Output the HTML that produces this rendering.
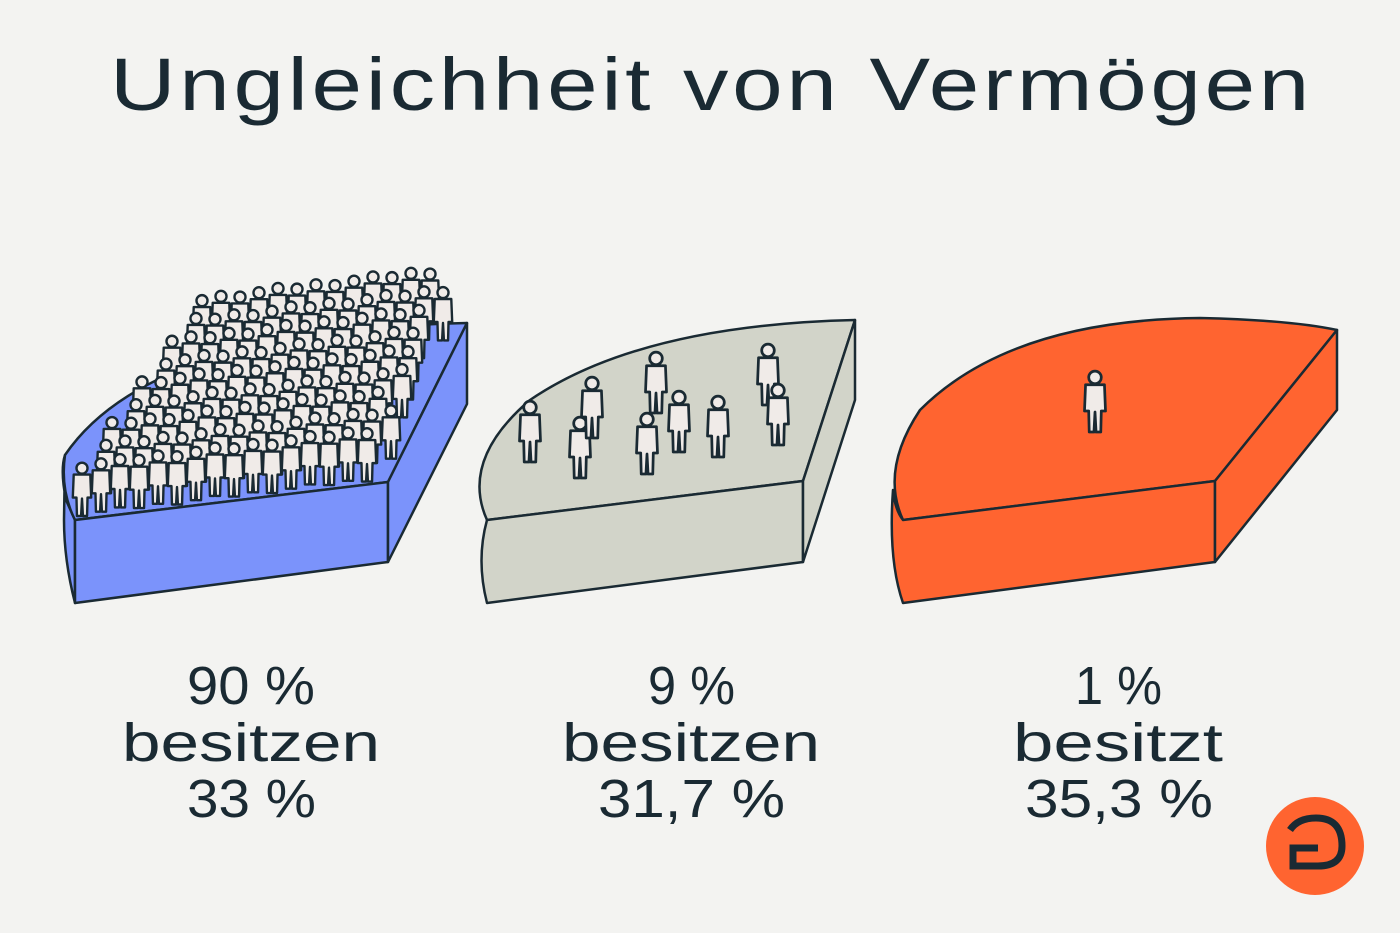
<!DOCTYPE html>
<html><head><meta charset="utf-8"><style>
html,body{margin:0;padding:0;background:#f3f3f1;}
svg{display:block}
text{font-family:"Liberation Sans",sans-serif;fill:#1a2a33}
</style></head><body>
<svg id="s" width="1400" height="933" viewBox="0 0 1400 933">
<defs>
<g id="person">
<circle cx="0" cy="-52" r="6" fill="#f0ebe8" stroke="#1a2a33" stroke-width="2.6"/>
<path d="M-9,-45 L9,-45 L10,-20 L6,-20 L5.5,0 L1,0 L0,-19 L-1,0 L-5.5,0 L-6,-20 L-10,-20 Z" fill="#f0ebe8" stroke="#1a2a33" stroke-width="2.6" stroke-linejoin="round"/>
</g>
</defs>
<rect width="1400" height="933" fill="#f3f3f1"/>
<text x="110" y="110" font-size="74" textLength="1203" lengthAdjust="spacingAndGlyphs" letter-spacing="3">Ungleichheit von Vermögen</text>

<g stroke="#1a2a33" stroke-width="2.5" stroke-linejoin="round">
<g>
<path d="M65,455 Q60,470 66,500 L75,520 L75,603 Q64,560 64,520 Z" fill="#7b93fb"/>
<path d="M65,455 Q150,330 467,323 L388,482 L75,520 Q60,490 65,455 Z" fill="#7b93fb"/>
<path d="M75,520 L388,482 L388,562 L75,603 Z" fill="#7b93fb"/>
<path d="M388,482 L467,323 L467,404 L388,562 Z" fill="#7b93fb"/>
</g>
<g>
<path d="M487,520 Q460,460 530,400 Q640,325 855,320 L803,481 Z" fill="#d2d4c9"/>
<path d="M487,520 L803,481 L803,562 L487,603 Q476,560 487,520 Z" fill="#d2d4c9"/>
<path d="M803,481 L855,320 L855,400 L803,562 Z" fill="#d2d4c9"/>
</g>
<g>
<path d="M903,520 Q880,470 920,410 Q1010,320 1200,318 Q1290,320 1337,330 L1215,481 Z" fill="#ff6430"/>
<path d="M903,520 L1215,481 L1215,562 L903,603 Q888,560 893,490 Q895,510 903,520 Z" fill="#ff6430"/>
<path d="M1215,481 L1337,330 L1337,410 L1215,562 Z" fill="#ff6430"/>
</g>
</g>
<g id="blue-people"></g>
<g id="grey-people"></g>
<g id="orange-people"></g>

<g font-size="54">
<text x="187" y="704" textLength="128" lengthAdjust="spacingAndGlyphs">90 %</text>
<text x="122" y="761" textLength="258" lengthAdjust="spacingAndGlyphs">besitzen</text>
<text x="187" y="817" textLength="129" lengthAdjust="spacingAndGlyphs">33 %</text>
<text x="648" y="704" textLength="87" lengthAdjust="spacingAndGlyphs">9 %</text>
<text x="562" y="761" textLength="258" lengthAdjust="spacingAndGlyphs">besitzen</text>
<text x="598" y="817" textLength="187" lengthAdjust="spacingAndGlyphs">31,7 %</text>
<text x="1075" y="704" textLength="87" lengthAdjust="spacingAndGlyphs">1 %</text>
<text x="1013" y="761" textLength="210" lengthAdjust="spacingAndGlyphs">besitzt</text>
<text x="1025" y="817" textLength="188" lengthAdjust="spacingAndGlyphs">35,3 %</text>
</g>

<g>
<circle cx="1315" cy="846" r="49" fill="#ff6430"/>
<path d="M1290,830 Q1298,818 1316,818 Q1342,818 1342,846 Q1342,866 1318,866 L1293,866 L1293,848 L1318,848" fill="none" stroke="#1a2a33" stroke-width="7"/>
</g>
</svg>
<script>
const NS="http://www.w3.org/2000/svg";
const greyPeople=[[530,462],[580,478],[592,438],[647,474],[656,413],[679,452],[718,457],[768,405],[778,445]];
const orangePeople=[[1095,432]];
function place(g,x,y,sc){
  const u=document.createElementNS(NS,"use");
  u.setAttribute("href","#person");
  u.setAttribute("transform","translate("+x+","+y+") scale("+sc+")");
  
  
  g.appendChild(u);
}
const bg=document.getElementById("blue-people");
for(let r=8;r>=0;r--){
  const y0=512-r*19, x0=82+r*15;
  const x1=380+r*8;
  for(let x=x0;x<=x1;x+=19){
    const y=y0-(x-82)*0.121+((x*7+r*3)%5);
    place(bg,x+((r%2)*9),y,0.92);
  }
}
greyPeople.forEach(p=>place(document.getElementById("grey-people"),p[0],p[1],1.05));
orangePeople.forEach(p=>place(document.getElementById("orange-people"),p[0],p[1],1.05));
</script>
</body></html>
